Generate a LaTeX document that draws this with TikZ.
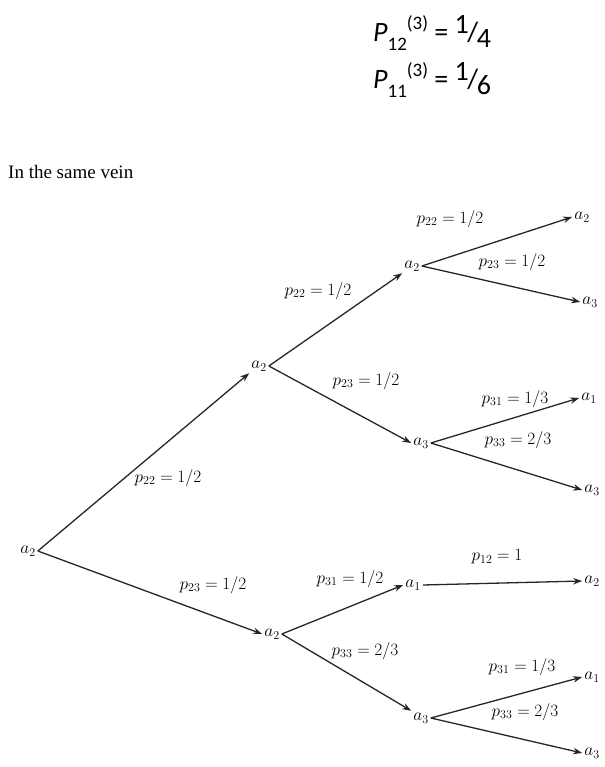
\documentclass[tikz,border=0pt]{standalone}
\usepackage{fontspec}
\setmainfont{Liberation Serif}
\newfontfamily\hdrfont{Carlito}
\usetikzlibrary{arrows.meta}
\tikzset{
  st/.style={font=\fontsize{18}{20}\selectfont, inner sep=2pt},
  lb/.style={font=\fontsize{18}{20}\selectfont, inner sep=0pt},
  arr/.style={-{Stealth[length=9pt,width=6.5pt]}, line width=1.3pt, black!85},
}
\begin{document}
\begin{tikzpicture}[x=1pt,y=-1pt]
\useasboundingbox (0,0) rectangle (604,767);
% header
\node[anchor=west, inner sep=0pt, font=\hdrfont\fontsize{28}{30}\selectfont] (h1) at (373,33)
  {\textit{P}\raisebox{-0.32em}{\fontsize{19}{20}\selectfont 12}\raisebox{0.45em}{\fontsize{19}{20}\selectfont (3)} = \raisebox{0.3em}{1}\kern-0.05em/\kern-0.05em\raisebox{-0.2em}{4}};
\node[anchor=west, inner sep=0pt, font=\hdrfont\fontsize{28}{30}\selectfont] (h2) at (373,80)
  {\textit{P}\raisebox{-0.32em}{\fontsize{19}{20}\selectfont 11}\raisebox{0.45em}{\fontsize{19}{20}\selectfont (3)} = \raisebox{0.3em}{1}\kern-0.05em/\kern-0.05em\raisebox{-0.2em}{6}};
\node[anchor=west, inner sep=0pt, font=\fontsize{19}{22}\selectfont] (txt) at (8,172) {In the same vein};
% states
\node[st] (r)  at (28,551)  {$a_2$};
\node[st] (m1) at (259,366) {$a_2$};
\node[st] (m2) at (272,634) {$a_2$};
\node[st] (u1) at (412,266) {$a_2$};
\node[st] (u2) at (421,443) {$a_3$};
\node[st] (l1) at (413,585) {$a_1$};
\node[st] (l2) at (421,718) {$a_3$};
\node[st] (t1) at (582,217) {$a_2$};
\node[st] (t2) at (590,302) {$a_3$};
\node[st] (t3) at (589,398) {$a_1$};
\node[st] (t4) at (592,490) {$a_3$};
\node[st] (t5) at (592,581) {$a_2$};
\node[st] (t6) at (592,677) {$a_1$};
\node[st] (t7) at (592,753) {$a_3$};
% edges
\draw[arr] (r.east) -- (m1.south west);
\draw[arr] (r.east) -- (m2.west);
\draw[arr] (m1.east) -- (u1.south west);
\draw[arr] (m1.east) -- (u2.west);
\draw[arr] (m2.east) -- (l1.west);
\draw[arr] (m2.east) -- (l2.north west);
\draw[arr] (u1.east) -- (t1.west);
\draw[arr] (u1.east) -- (t2.west);
\draw[arr] (u2.east) -- (t3.west);
\draw[arr] (u2.east) -- (t4.west);
\draw[arr] (l1.east) -- (t5.west);
\draw[arr] (l2.east) -- (t6.west);
\draw[arr] (l2.east) -- (t7.west);
% labels
\node[lb] (e1) at (168,478) {$p_{22} = 1/2$};
\node[lb] (e2) at (213,585) {$p_{23} = 1/2$};
\node[lb] (e3) at (318,291) {$p_{22} = 1/2$};
\node[lb] (e4) at (366,381) {$p_{23} = 1/2$};
\node[lb] (e5) at (450,219) {$p_{22} = 1/2$};
\node[lb] (e6) at (512,262) {$p_{23} = 1/2$};
\node[lb] (e7) at (515,399) {$p_{31} = 1/3$};
\node[lb] (e8) at (518,440) {$p_{33} = 2/3$};
\node[lb] (e9) at (350,579) {$p_{31} = 1/2$};
\node[lb] (e10) at (365,651) {$p_{33} = 2/3$};
\node[lb] (e11) at (497,557) {$p_{12} = 1$};
\node[lb] (e12) at (522,667) {$p_{31} = 1/3$};
\node[lb] (e13) at (525,712) {$p_{33} = 2/3$};
\end{tikzpicture}
\end{document}
